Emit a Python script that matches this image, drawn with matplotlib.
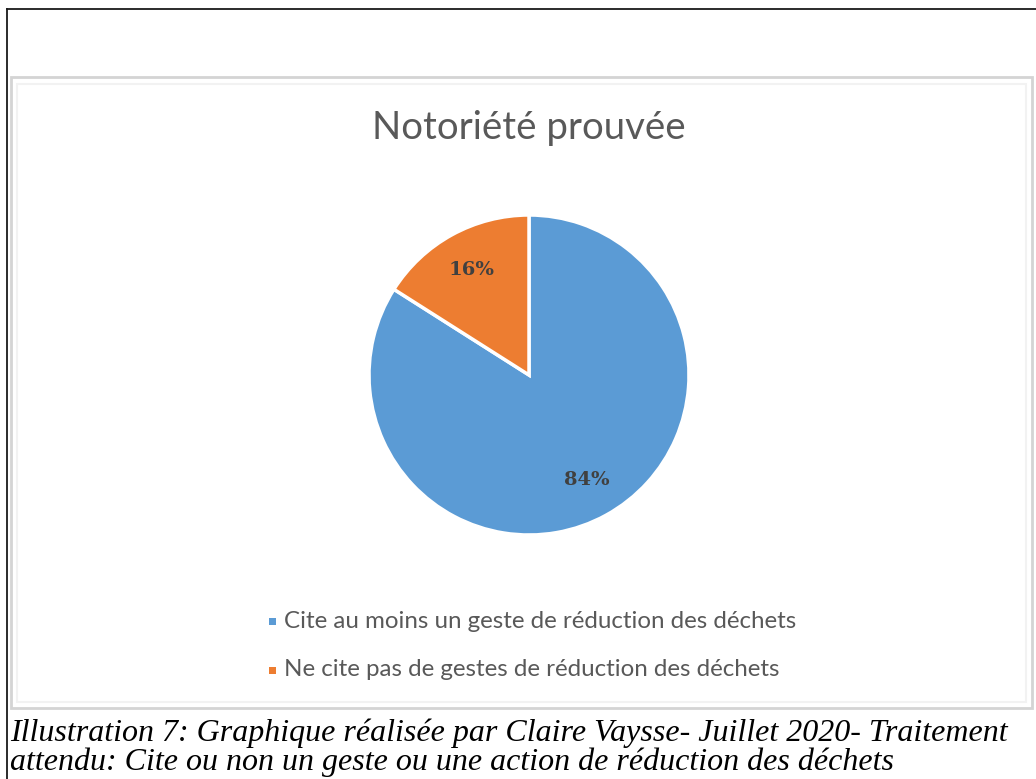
import matplotlib
matplotlib.use("Agg")
import matplotlib.pyplot as plt
from matplotlib.patches import Rectangle
from matplotlib.lines import Line2D

categories = ["Cite au moins un geste de réduction des déchets",
              "Ne cite pas de gestes de réduction des déchets"]
values = [84, 16]
colors = ["#5B9BD5", "#ED7D31"]
title = "Notoriété prouvée"
caption_lines = ["Illustration 7: Graphique réalisée par Claire Vaysse- Juillet 2020- Traitement",
                 "attendu: Cite ou non un geste ou une action de réduction des déchets"]

W, H = 1036, 779
fig = plt.figure(figsize=(W / 100, H / 100), dpi=100)
fig.patch.set_facecolor("white")

def fx(x):
    return x / W

def fy(y):
    return 1 - y / H

# outer frame lines (left and top)
fig.add_artist(Line2D([fx(7), fx(7)], [fy(9), 0], color="#1a1a1a", lw=1.3,
                      transform=fig.transFigure, zorder=-2))
fig.add_artist(Line2D([fx(7), 1], [fy(9), fy(9)], color="#1a1a1a", lw=1.3,
                      transform=fig.transFigure, zorder=-2))

# inner chart frame
fig.add_artist(Rectangle((fx(11), fy(708)), fx(1032) - fx(11), fy(77) - fy(708),
                         transform=fig.transFigure, facecolor="white",
                         edgecolor="#D4D4D4", lw=2.0, zorder=-2))
fig.add_artist(Rectangle((fx(17), fy(702)), fx(1026) - fx(17), fy(84) - fy(702),
                         transform=fig.transFigure, facecolor="none",
                         edgecolor="#F2F2F2", lw=1.5, zorder=-1))

# pie
cx, cy, r = 529, 375, 160
ax = fig.add_axes([fx(cx - r), fy(cy + r), (2 * r) / W, (2 * r) / H], zorder=2)
ax.patch.set_alpha(0)
wedges, texts, autotexts = ax.pie(values, colors=colors, startangle=90, counterclock=False,
                                  autopct=lambda p: f"{p:.0f}%", pctdistance=0.75,
                                  wedgeprops=dict(edgecolor="white", linewidth=2.5),
                                  textprops=dict(fontsize=14, fontweight="bold",
                                                 color="#404040", family="DejaVu Serif"))
ax.set_xlim(-1.0, 1.0)
ax.set_ylim(-1.0, 1.0)
ax.set_aspect("equal")
ax.axis("off")

# title
fig.text(fx(529), fy(128), title, ha="center", va="center", fontsize=27.6,
         color="#595959", family="Lato")

# legend
leg_y = [621, 670]
for cat, col, y in zip(categories, colors, leg_y):
    fig.add_artist(Rectangle((fx(269), fy(y + 4)), fx(7), fy(0) - fy(7),
                             transform=fig.transFigure, facecolor=col, edgecolor="none"))
    fig.text(fx(284), fy(y), cat, ha="left", va="center", fontsize=17.4,
             color="#595959", family="Lato")

# caption
fig.text(fx(10), fy(741), caption_lines[0], ha="left", va="baseline", fontsize=23,
         style="italic", family="Liberation Serif", color="black")
fig.text(fx(10), fy(770), caption_lines[1], ha="left", va="baseline", fontsize=23,
         style="italic", family="Liberation Serif", color="black")

fig.savefig("out.png", dpi=100, facecolor="white")
